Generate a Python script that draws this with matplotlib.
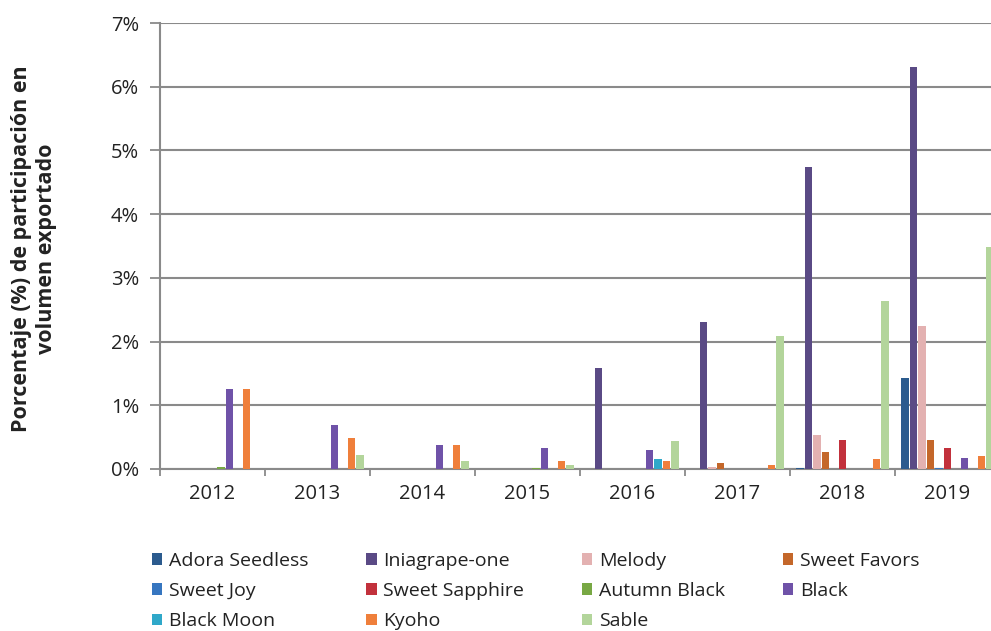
import numpy as np
import matplotlib
matplotlib.use('Agg')
import matplotlib.pyplot as plt
from matplotlib.patches import Patch

plt.rcParams['font.family'] = ['Open Sans', 'DejaVu Sans']

# --- Data (% share of exported volume) ---
years = ['2012', '2013', '2014', '2015', '2016', '2017', '2018', '2019']
series_names = ['Adora Seedless', 'Iniagrape-one', 'Melody', 'Sweet Favors',
                'Sweet Joy', 'Sweet Sapphire', 'Autumn Black', 'Black',
                'Black Moon', 'Kyoho', 'Sable']
adora_seedless = [0, 0, 0, 0, 0, 0, 0.02, 1.43]
iniagrape_one = [0, 0, 0, 0, 1.59, 2.31, 4.74, 6.31]
melody = [0, 0, 0, 0, 0, 0.03, 0.54, 2.25]
sweet_favors = [0, 0, 0, 0, 0, 0.09, 0.27, 0.45]
sweet_joy = [0, 0, 0, 0, 0, 0, 0, 0.02]
sweet_sapphire = [0, 0, 0, 0, 0, 0, 0.46, 0.33]
autumn_black = [0.03, 0, 0, 0.01, 0, 0, 0, 0]
black = [1.26, 0.69, 0.37, 0.33, 0.30, 0, 0, 0.18]
black_moon = [0, 0, 0, 0, 0.15, 0, 0, 0]
kyoho = [1.26, 0.49, 0.37, 0.12, 0.12, 0.06, 0.15, 0.20]
sable = [0, 0.22, 0.12, 0.07, 0.44, 2.08, 2.63, 3.49]
y_ticks = [0, 1, 2, 3, 4, 5, 6, 7]
y_tick_labels = ['0%', '1%', '2%', '3%', '4%', '5%', '6%', '7%']

all_series = [adora_seedless, iniagrape_one, melody, sweet_favors, sweet_joy,
              sweet_sapphire, autumn_black, black, black_moon, kyoho, sable]
colors = ['#2b5b8e', '#5a4a85', '#e3b1b1', '#c4672a', '#3676c0', '#c2313c',
          '#78a844', '#6f52a8', '#2fa8c9', '#ef7f3b', '#b3d59b']

fig = plt.figure(figsize=(9.91, 6.31), dpi=100)
# axes runs a bit past the right edge, like the cropped original
ax = fig.add_axes([160 / 991, 162 / 631, 840 / 991, 446 / 631])

x = np.arange(len(years))
slot = 0.081
bar_w = 0.068
n = len(all_series)
for i, (vals, col) in enumerate(zip(all_series, colors)):
    offs = (i - (n - 1) / 2) * slot
    ax.bar(x + offs, vals, width=bar_w, color=col, zorder=3)

ax.set_xlim(-0.5, len(years) - 0.5)
ax.set_ylim(0, 7)
ax.set_yticks(y_ticks)
ax.set_yticklabels(y_tick_labels, fontsize=14.5, color='#222222')
ax.set_xticks(x)
ax.set_xticklabels(years, fontsize=14.5, color='#222222')
ax.set_xticks(np.arange(len(years) + 1) - 0.5, minor=True)
ax.tick_params(axis='x', which='major', length=0, pad=11)
ax.tick_params(axis='x', which='minor', length=5, color='#808080', width=1.2)
ax.tick_params(axis='y', length=7, color='#808080', width=1.2, pad=8)

ax.grid(axis='y', color='#8a8a8a', linewidth=1.5, zorder=0)
for s in ['top', 'right']:
    ax.spines[s].set_visible(False)
ax.spines['left'].set_color('#8a8a8a')
ax.spines['bottom'].set_color('#8a8a8a')
ax.spines['left'].set_linewidth(1.5)
ax.spines['bottom'].set_linewidth(1.5)

fig.text(34 / 991, (631 - 249) / 631,
         'Porcentaje (%) de participación en\nvolumen exportado',
         rotation=90, ha='center', va='center', fontsize=15.5,
         fontweight='bold', color='#222222', linespacing=1.25)

# legend, filled column by column -> reorder so it reads row by row
order = [0, 4, 8, 1, 5, 9, 2, 6, 10, 3, 7]
handles = [Patch(facecolor=colors[k], label=series_names[k]) for k in order]
fig.legend(handles=handles, ncol=4, loc='upper left',
           bbox_to_anchor=(136 / 991, 1 - 536 / 631), frameon=False,
           fontsize=14, handlelength=0.55, handleheight=0.55, handletextpad=0.35,
           columnspacing=2.95, labelspacing=0.64, labelcolor='#222222',
           borderpad=0.3)

fig.savefig('out.png', dpi=100)
